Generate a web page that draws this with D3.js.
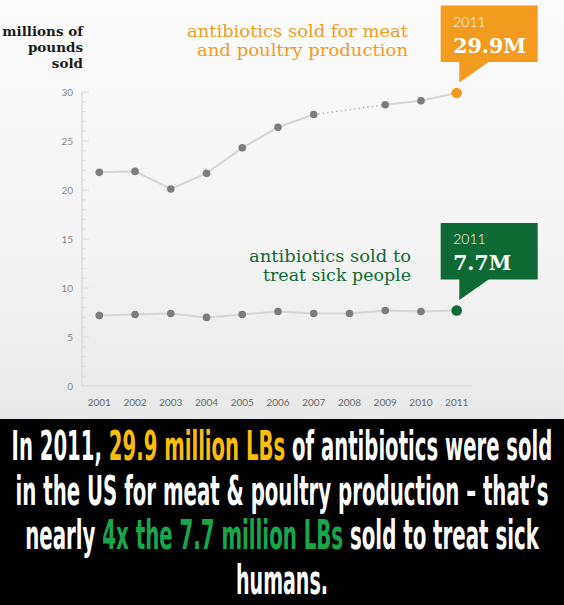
<!DOCTYPE html>
<html>
<head>
<meta charset="utf-8">
<script src="https://cdn.jsdelivr.net/npm/d3@7"></script>
<style>
  html, body { margin: 0; padding: 0; background: #000; }
  svg { display: block; }
</style>
</head>
<body>
<div id="chart"></div>
<script>
var years = [2001, 2002, 2003, 2004, 2005, 2006, 2007, 2008, 2009, 2010, 2011];
// 2008 missing for meat (dotted gap in the original)
var meatValues = [21.8, 21.9, 20.1, 21.7, 24.3, 26.4, 27.7, null, 28.7, 29.1, 29.9];
var humanValues = [7.2, 7.3, 7.4, 7.0, 7.3, 7.6, 7.4, 7.4, 7.7, 7.6, 7.7];
var yTicks = [0, 5, 10, 15, 20, 25, 30];
var meatLabel = ['antibiotics sold for meat', 'and poultry production'];
var humanLabel = ['antibiotics sold to', 'treat sick people'];
var unitLabel = ['millions of', 'pounds', 'sold'];
var calloutYear = '2011';
var meatCallout = '29.9M';
var humanCallout = '7.7M';
var caption = [
    [['In 2011, ', 'w'], ['29.9 million LBs', 'y'], [' of antibiotics were sold', 'w']],
    [['in the US for meat & poultry production \u2013 that\u2019s', 'w']],
    [['nearly ', 'w'], ['4x the 7.7 million LBs', 'g'], [' sold to treat sick', 'w']],
    [['humans.', 'w']]
];

(function() {
    'use strict';

    var width = 564, height = 605;
    var orange = '#f29b1e', green = '#0e6a35';
    var capColors = { w: '#ffffff', y: '#fcbd0a', g: '#18a84b' };

    var svg = d3.select('#chart').append('svg')
        .attr('width', width)
        .attr('height', height);

    var defs = svg.append('defs');
    var grad = defs.append('linearGradient')
        .attr('id', 'bg')
        .attr('x1', 0).attr('y1', 0).attr('x2', 0).attr('y2', 1);
    grad.append('stop').attr('offset', '0%').attr('stop-color', '#fbfbfb');
    grad.append('stop').attr('offset', '60%').attr('stop-color', '#f4f4f4');
    grad.append('stop').attr('offset', '100%').attr('stop-color', '#e8e8e8');

    svg.append('rect')
        .attr('width', width).attr('height', 419)
        .attr('fill', 'url(#bg)');
    svg.append('rect')
        .attr('y', 419).attr('width', width).attr('height', height - 419)
        .attr('fill', '#000');

    var x = d3.scaleLinear().domain([2001, 2011]).range([99.3, 456.7]);
    var y = d3.scaleLinear().domain([0, 30]).range([386, 92]);

    // axis: vertical line, minor ticks every unit, major every 5
    var axis = svg.append('g');
    axis.append('line')
        .attr('x1', 82).attr('x2', 82)
        .attr('y1', y(30)).attr('y2', y(0))
        .attr('stroke', '#dcdcdc').attr('stroke-width', 1.5);
    axis.selectAll('.minor')
        .data(d3.range(0, 31))
        .enter().append('line')
        .attr('x1', 82)
        .attr('x2', function(d) { return d % 5 === 0 ? 89 : 86; })
        .attr('y1', function(d) { return y(d); })
        .attr('y2', function(d) { return y(d); })
        .attr('stroke', '#dedede').attr('stroke-width', 1);
    axis.append('line')
        .attr('x1', 82).attr('x2', 472)
        .attr('y1', y(0)).attr('y2', y(0))
        .attr('stroke', '#e2e2e2').attr('stroke-width', 2);

    axis.selectAll('.ylab')
        .data(yTicks)
        .enter().append('text')
        .attr('x', 73)
        .attr('y', function(d) { return y(d); })
        .attr('dy', '0.35em')
        .attr('text-anchor', 'end')
        .attr('font-family', 'Lato, sans-serif')
        .attr('font-size', 10)
        .attr('fill', '#8a8a8a')
        .text(function(d) { return d; });

    axis.selectAll('.xlab')
        .data(years)
        .enter().append('text')
        .attr('x', function(d) { return x(d); })
        .attr('y', 402)
        .attr('dy', '0.35em')
        .attr('text-anchor', 'middle')
        .attr('font-family', 'Lato, sans-serif')
        .attr('font-size', 10)
        .attr('fill', '#6a6a6a')
        .text(function(d) { return d; });

    // unit label
    svg.append('g').selectAll('text')
        .data(unitLabel)
        .enter().append('text')
        .attr('x', 83)
        .attr('y', function(d, i) { return [36, 52, 68][i]; })
        .attr('text-anchor', 'end')
        .attr('font-family', '"DejaVu Serif", serif')
        .attr('font-weight', 'bold')
        .attr('font-size', 13.5)
        .attr('fill', '#1a1a1a')
        .text(function(d) { return d; });

    function series(values) {
        return years.map(function(yr, i) {
            return { year: yr, value: values[i] };
        });
    }
    var meat = series(meatValues);
    var human = series(humanValues);

    var line = d3.line()
        .defined(function(d) { return d.value !== null; })
        .x(function(d) { return x(d.year); })
        .y(function(d) { return y(d.value); });

    // dotted bridge over the missing year
    var gaps = [];
    meat.forEach(function(d, i) {
        if (d.value === null) {
            gaps.push([meat[i - 1], meat[i + 1]]);
        }
    });
    svg.append('g').selectAll('path')
        .data(gaps)
        .enter().append('path')
        .attr('d', function(d) { return d3.line().x(function(p) { return x(p.year); }).y(function(p) { return y(p.value); })(d); })
        .attr('fill', 'none')
        .attr('stroke', '#b4b4b4')
        .attr('stroke-width', 1.5)
        .attr('stroke-dasharray', '1.5,3');

    [meat, human].forEach(function(s) {
        svg.append('path')
            .datum(s)
            .attr('d', line)
            .attr('fill', 'none')
            .attr('stroke', '#d6d6d6')
            .attr('stroke-width', 2);
    });

    function dots(data, color) {
        var lastYear = data[data.length - 1].year;
        svg.append('g').selectAll('circle')
            .data(data.filter(function(d) { return d.value !== null; }))
            .enter().append('circle')
            .attr('cx', function(d) { return x(d.year); })
            .attr('cy', function(d) { return y(d.value); })
            .attr('r', function(d) { return d.year === lastYear ? 5.3 : 3.8; })
            .attr('fill', function(d) { return d.year === lastYear ? color : '#7d7d7d'; });
    }
    dots(meat, orange);
    dots(human, green);

    // callout boxes anchored to the last point
    function callout(d, color, big, bigWidth) {
        var px = x(d.year), py = y(d.value);
        var g = svg.append('g');
        var left = px - 16, right = px + 81, top = py - 87.6, bottom = py - 31;
        g.append('path')
            .attr('d', 'M' + left + ',' + top +
                'H' + right + 'V' + bottom +
                'H' + (px + 32) + 'L' + (px + 2.6) + ',' + (py - 10.5) +
                'V' + bottom + 'H' + left + 'Z')
            .attr('fill', color);
        g.append('text')
            .attr('x', px - 3.5)
            .attr('y', top + 21.5)
            .attr('font-family', 'Lato, sans-serif')
            .attr('font-weight', 300)
            .attr('font-size', 14)
            .attr('fill', '#fff')
            .text(calloutYear);
        g.append('text')
            .attr('x', px - 3.5)
            .attr('y', top + 47.5)
            .attr('font-family', '"DejaVu Serif", serif')
            .attr('font-weight', 'bold')
            .attr('font-size', 21)
            .attr('textLength', bigWidth)
            .attr('lengthAdjust', 'spacingAndGlyphs')
            .attr('fill', '#fff')
            .text(big);
    }
    callout(meat[meat.length - 1], orange, meatCallout, 73);
    callout(human[human.length - 1], green, humanCallout, 58);

    // series labels
    function seriesLabel(lines, color, xr, baselines, widths) {
        svg.append('g').selectAll('text')
            .data(lines)
            .enter().append('text')
            .attr('x', function(d, i) { return xr - widths[i]; })
            .attr('y', function(d, i) { return baselines[i]; })
            .attr('font-family', '"DejaVu Serif", serif')
            .attr('font-size', 16)
            .attr('textLength', function(d, i) { return widths[i]; })
            .attr('lengthAdjust', 'spacingAndGlyphs')
            .attr('fill', color)
            .text(function(d) { return d; });
    }
    seriesLabel(meatLabel, orange, 408, [37, 56], [221, 211]);
    seriesLabel(humanLabel, green, 411, [262, 281], [162, 148]);

    // caption in the black band: squeeze each line horizontally to its width
    var capWidths = [541, 533, 514, 92];
    var capText = svg.append('g').selectAll('text')
        .data(caption)
        .enter().append('text')
        .attr('text-anchor', 'middle')
        .attr('font-family', '"DejaVu Sans Condensed", "DejaVu Sans", sans-serif')
        .attr('font-stretch', 'condensed')
        .attr('font-weight', 'bold')
        .attr('font-size', 41);
    capText.selectAll('tspan')
        .data(function(d) { return d; })
        .enter().append('tspan')
        .attr('fill', function(d) { return capColors[d[1]]; })
        .text(function(d) { return d[0]; });
    capText.attr('transform', function(d, i) {
        var w = this.getComputedTextLength();
        var k = capWidths[i] / w;
        return 'translate(282,' + (460 + i * 44.7) + ') scale(' + k + ',1)';
    });
})();
</script>
</body>
</html>
